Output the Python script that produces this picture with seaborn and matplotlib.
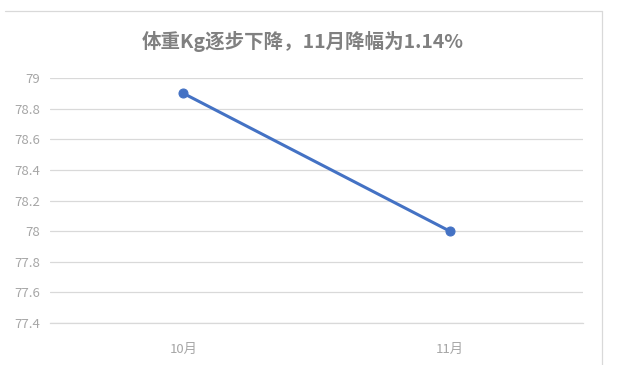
import matplotlib
matplotlib.use("Agg")
import matplotlib.pyplot as plt
from matplotlib.lines import Line2D
import seaborn as sns
import pandas as pd

months = ["10月", "11月"]
weights = [78.9, 78.0]
y_ticks = [77.4, 77.6, 77.8, 78.0, 78.2, 78.4, 78.6, 78.8, 79.0]
y_labels = ["77.4", "77.6", "77.8", "78", "78.2", "78.4", "78.6", "78.8", "79"]
title = "体重Kg逐步下降，11月降幅为1.14%"

sns.set_theme(style="white")
plt.rcParams["font.family"] = ["Noto Sans CJK SC", "DejaVu Sans"]

df = pd.DataFrame({"month": months, "weight": weights})

fig = plt.figure(figsize=(6.17, 3.65), dpi=100)
ax = fig.add_axes([50 / 617, 1 - 323 / 365, 533 / 617, 245 / 365])

sns.lineplot(data=df, x="month", y="weight", ax=ax, color="#4472C4",
             linewidth=2.2, marker="o", markersize=6.5,
             markeredgecolor="#4472C4", sort=False)

ax.set_ylim(77.4, 79.0)
ax.set_xlim(-0.5, 1.5)
ax.set_yticks(y_ticks)
ax.set_yticklabels(y_labels)
ax.grid(axis="y", color="#d9d9d9", linewidth=0.9)
ax.set_axisbelow(True)
for s in ["top", "right", "left"]:
    ax.spines[s].set_visible(False)
ax.spines["bottom"].set_color("#d9d9d9")
ax.spines["bottom"].set_linewidth(0.9)
ax.tick_params(axis="both", length=0, colors="#a6a6a6", labelsize=9.5)
ax.tick_params(axis="y", pad=7)
ax.tick_params(axis="x", pad=14)
ax.set_xlabel("")
ax.set_ylabel("")

fig.text(303 / 617, 1 - 42 / 365, title, ha="center", va="center",
         fontsize=14, fontweight="bold", color="#808080")

# chart area border (top and right edges)
fig.add_artist(Line2D([5 / 617, 602 / 617], [1 - 11 / 365, 1 - 11 / 365],
                      color="#d9d9d9", linewidth=0.9, transform=fig.transFigure))
fig.add_artist(Line2D([602 / 617, 602 / 617], [1 - 11 / 365, 0],
                      color="#d9d9d9", linewidth=0.9, transform=fig.transFigure))

fig.savefig("out.png", dpi=100)
